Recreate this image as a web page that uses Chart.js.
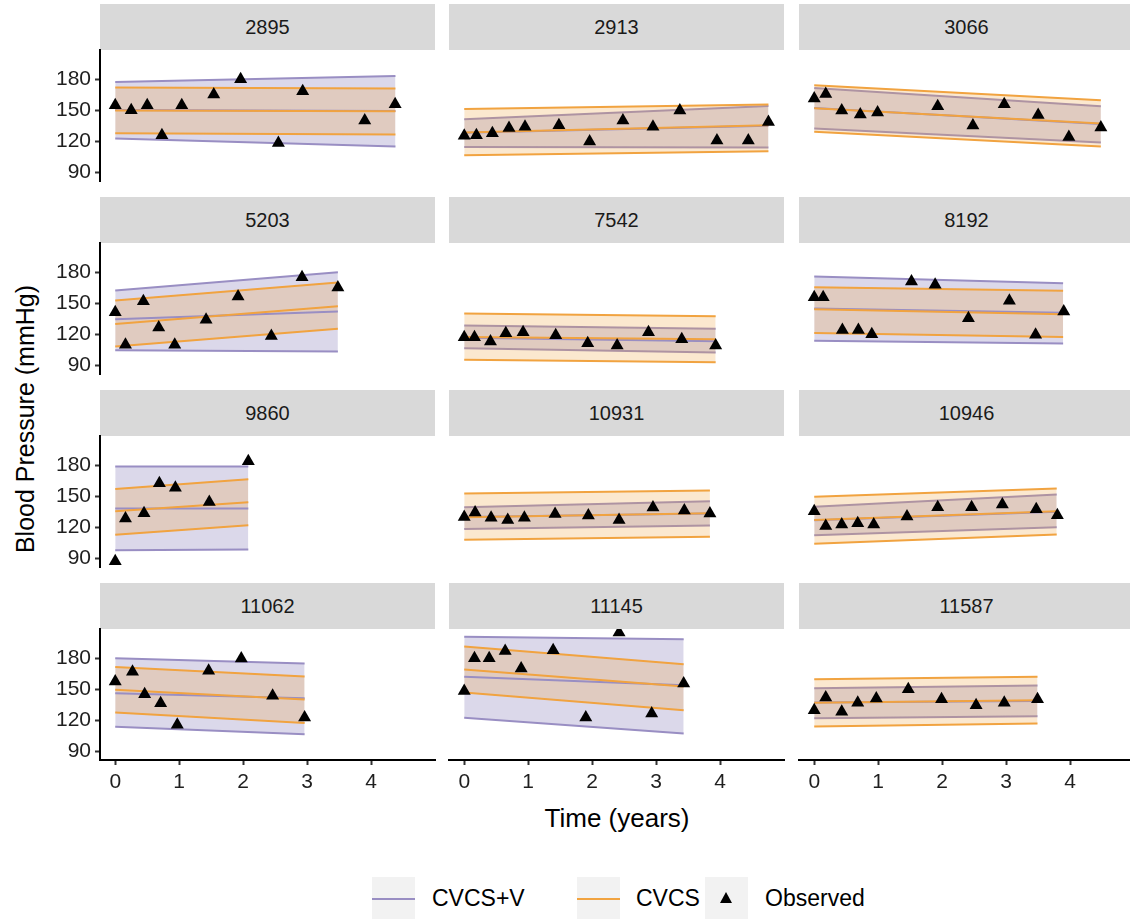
<!DOCTYPE html>
<html><head><meta charset="utf-8">
<script src="https://cdn.jsdelivr.net/npm/chart.js@4"></script>
<style>
html,body{margin:0;padding:0;background:#fff;}
body{width:1130px;height:919px;position:relative;overflow:hidden;font-family:"Liberation Sans",Arial,Helvetica,sans-serif;}
.strip{position:absolute;background:#d9d9d9;color:#1a1a1a;font-size:20px;text-align:center;z-index:1;}
canvas{position:absolute;z-index:2;}
.title{position:absolute;color:#000;text-align:center;white-space:nowrap;}
.key{position:absolute;top:877px;width:43px;height:43px;background:#f2f2f2;}
.kline{position:absolute;left:0;top:20.5px;width:43px;height:2px;}
.ktri{position:absolute;left:15px;top:15px;width:0;height:0;border-left:6.5px solid transparent;border-right:6.5px solid transparent;border-bottom:11px solid #000;}
.klab{position:absolute;top:884px;font-size:23px;line-height:28px;color:#000;white-space:nowrap;}
</style></head><body>
<div class="title" style="left:100px;width:1034px;top:803px;line-height:30px;font-size:26px;">Time (years)</div>
<div class="title" style="left:-325px;top:404px;width:700px;line-height:30px;font-size:25px;transform:rotate(-90deg);">Blood Pressure (mmHg)</div>
<div class="key" style="left:372px;"><div class="kline" style="background:#998ec3;"></div></div>
<div class="klab" style="left:432px;">CVCS+V</div>
<div class="key" style="left:577px;"><div class="kline" style="background:#f1a340;"></div></div>
<div class="klab" style="left:636px;">CVCS</div>
<div class="key" style="left:705px;"><div class="ktri"></div></div>
<div class="klab" style="left:765px;">Observed</div>
<script>
// ---- data ----
const panelIds = ['2895','2913','3066','5203','7542','8192','9860','10931','10946','11062','11145','11587'];
const xTicks = [0, 1, 2, 3, 4];
const yTicks = [90, 120, 150, 180];
// last follow-up time of each patient (years)
const tMax = [4.38, 4.755, 4.48, 3.48, 3.93, 3.89, 2.08, 3.84, 3.79, 2.96, 3.43, 3.49];
// CVCS+V interval: [value at t=0, value at tMax]
const cvcsvUpper = [[177.7,183.5],[141.6,154.5],[171.9,154.2],[162.6,180.3],[128.7,125.5],[176.1,169.7],[179,179],[139.7,145.5],[140,151.9],[180.3,175.2],[201,198.7],[151.3,153.9]];
const cvcsvMid   = [[150.5,149.6],[128.5,135.2],[152.5,137],[134.8,142.3],[117,113.5],[145.2,141],[138.4,138.4],[130.3,133.5],[127,135.2],[146.5,141.6],[162.3,154.2],[137.5,139]];
const cvcsvLower = [[122.9,115.2],[114.8,114.2],[132.6,119],[104.8,103.5],[106.8,102.6],[113.9,111.3],[98.1,98.7],[118.7,121.9],[112.6,120.3],[113.9,106.8],[122.6,107.4],[122.3,124.2]];
// CVCS interval
const cvcsUpper = [[172.3,171.3],[151.6,155.8],[174.5,160],[152.9,170.3],[140.3,137.7],[165.8,162.3],[157.4,166.8],[152.9,155.8],[149.7,157.7],[171.9,162.6],[191.6,174.5],[160,162.3]];
const cvcsMid   = [[150,149.4],[128.7,135.8],[152.3,137.4],[130.3,147.4],[117.7,115.5],[144.5,139.7],[135.8,144.5],[130,133.9],[127.4,135.8],[149.7,140.3],[169.4,152.9],[137.1,139.7]];
const cvcsLower = [[128.1,126.8],[106.8,110.6],[129.4,115.2],[108.4,125.5],[95.5,93.2],[121.6,117.7],[112.9,122.3],[108.1,111],[104.2,113.2],[127.7,117.7],[147.1,130],[114.2,117.1]];
// observed
const obsTime = [
  [0,0.25,0.5,0.73,1.04,1.54,1.96,2.55,2.93,3.9,4.375],
  [0,0.19,0.44,0.70,0.95,1.48,1.96,2.48,2.95,3.37,3.95,4.44,4.755],
  [0,0.18,0.43,0.72,0.99,1.93,2.48,2.97,3.5,3.98,4.48],
  [0,0.16,0.44,0.68,0.93,1.42,1.92,2.44,2.92,3.48],
  [0,0.16,0.41,0.65,0.92,1.43,1.93,2.39,2.88,3.4,3.93],
  [0,0.14,0.44,0.69,0.9,1.52,1.89,2.41,3.05,3.46,3.9],
  [0,0.16,0.45,0.69,0.94,1.47,2.08],
  [0,0.17,0.42,0.68,0.94,1.42,1.94,2.42,2.95,3.44,3.84],
  [0,0.18,0.43,0.68,0.93,1.45,1.93,2.46,2.94,3.47,3.8],
  [0,0.27,0.46,0.71,0.97,1.46,1.97,2.46,2.96],
  [0,0.16,0.39,0.64,0.89,1.39,1.9,2.42,2.93,3.43],
  [0,0.18,0.43,0.68,0.97,1.47,1.99,2.53,2.97,3.49]
];
const obsBP = [
  [155.2,150.3,155.2,126.1,155.2,165.5,180.3,118.7,168.7,140.3,156.1],
  [125.5,126.1,128.1,133.2,134.2,135.8,120,140.3,134.2,150,121,121,139],
  [161.6,166.1,150,146.1,148.1,154.2,135.5,156.1,145.8,124.5,133.5],
  [141.6,110,152.3,126.8,110,134.2,156.8,118.7,175.5,165.5],
  [117.4,117.4,113.2,121.3,122.3,119.4,111.6,109.4,122.3,115.5,109.4],
  [156.1,156.1,124.5,124.5,120.3,171.3,168.1,135.8,152.6,119.7,142.3],
  [87.4,128.7,133.9,162.9,158.4,144.8,184.2],
  [130.3,134.5,129.4,127.4,129.4,133.2,131.6,127.4,139.4,136.5,133.5],
  [135.8,121.6,122.9,124.2,122.9,130.6,139.7,139.7,142.3,137.7,131.9],
  [157.7,167.1,145.5,136.8,115.8,168.1,180,143.9,122.9],
  [148.7,180.3,180.3,187.4,170.3,188.1,122.9,205.2,126.8,155.8],
  [130,142.3,128.4,137.1,141.3,150.3,140.6,134.8,137.1,140.6]
];

// ---- layout / style ----
const FONT = '"Liberation Sans", Arial, Helvetica, sans-serif';
const PURPLE = '#998ec3', ORANGE = '#f1a340';
const PURPLE_FILL = 'rgba(153,142,195,0.35)', ORANGE_FILL = 'rgba(241,163,64,0.25)';
const X_MIN = -0.238, X_MAX = 4.998, Y_MIN = 81.8, Y_MAX = 208.6;
const PL = [100, 449, 799], PT = [50, 243, 436, 629];
const W = 335, H = 131, PAD = 8, YAX = 100, XAX = 42, STRIP = 46.5;

function seg(i, arr) { return [{x: 0, y: arr[i][0]}, {x: tMax[i], y: arr[i][1]}]; }
function lineDs(data, color, fill, bg) {
  return { type: 'line', data, borderColor: color, borderWidth: 2, pointRadius: 0, fill: fill, backgroundColor: bg || 'transparent', tension: 0 };
}
function noPad(sc) { sc.paddingTop = 0; sc.paddingBottom = 0; sc.paddingLeft = 0; sc.paddingRight = 0; }

panelIds.forEach((id, i) => {
  const r = Math.floor(i / 3), c = i % 3;
  const isLeft = c === 0, isBottom = r === 3;
  const s = document.createElement('div');
  s.className = 'strip';
  s.style.left = PL[c] + 'px'; s.style.top = (PT[r] - STRIP) + 'px';
  s.style.width = W + 'px'; s.style.height = STRIP + 'px'; s.style.lineHeight = STRIP + 'px';
  s.textContent = id;
  document.body.appendChild(s);

  const cv = document.createElement('canvas');
  const left = isLeft ? PL[c] - YAX : PL[c] - PAD;
  const top = PT[r] - PAD;
  const w = (isLeft ? YAX : PAD) + W + PAD;
  const h = PAD + H + (isBottom ? XAX : PAD);
  cv.width = w; cv.height = h;
  cv.style.left = left + 'px'; cv.style.top = top + 'px';
  cv.style.width = w + 'px'; cv.style.height = h + 'px';
  document.body.appendChild(cv);

  const points = obsTime[i].map((t, k) => ({x: t, y: obsBP[i][k]}));
  // drawn from last to first: CVCS+V ribbon+bounds, CVCS ribbon+bounds, mid lines, points
  const datasets = [
    { type: 'line', data: points, showLine: false, pointStyle: 'triangle', pointRadius: 7.5, pointBackgroundColor: '#000', pointBorderColor: '#000', pointBorderWidth: 0, borderColor: '#000' },
    lineDs(seg(i, cvcsMid), ORANGE, false),
    lineDs(seg(i, cvcsvMid), PURPLE, false),
    lineDs(seg(i, cvcsLower), ORANGE, false),
    lineDs(seg(i, cvcsUpper), ORANGE, 3, ORANGE_FILL),
    lineDs(seg(i, cvcsvLower), PURPLE, false),
    lineDs(seg(i, cvcsvUpper), PURPLE, 5, PURPLE_FILL)
  ];

  const tickFont = {family: FONT, size: 21};
  const xScale = {
    type: 'linear', min: X_MIN, max: X_MAX, display: isBottom,
    afterBuildTicks: sc => { sc.ticks = xTicks.map(v => ({value: v})); },
    grid: {drawOnChartArea: false, drawTicks: true, tickLength: 5, color: '#333', tickColor: '#333', tickWidth: 2},
    border: {display: true, color: '#000', width: 2},
    ticks: {font: tickFont, color: '#1f1f1f', padding: 5, maxRotation: 0, autoSkip: false}
  };
  if (isBottom) xScale.afterFit = sc => { noPad(sc); sc.height = XAX; };
  const yScale = {
    type: 'linear', min: Y_MIN, max: Y_MAX, display: isLeft,
    afterBuildTicks: sc => { sc.ticks = yTicks.map(v => ({value: v})); },
    grid: {drawOnChartArea: false, drawTicks: true, tickLength: 5, color: '#333', tickColor: '#333', tickWidth: 2},
    border: {display: true, color: '#000', width: 2},
    ticks: {font: tickFont, color: '#1f1f1f', padding: 4, autoSkip: false}
  };
  if (isLeft) yScale.afterFit = sc => { noPad(sc); sc.width = YAX; };

  new Chart(cv.getContext('2d'), {
    type: 'line',
    data: {datasets},
    options: {
      responsive: false, animation: false, devicePixelRatio: 1,
      layout: {autoPadding: false, padding: {top: PAD, right: PAD, left: isLeft ? 0 : PAD, bottom: isBottom ? 0 : PAD}},
      plugins: {legend: {display: false}, tooltip: {enabled: false}},
      scales: {x: xScale, y: yScale}
    }
  });
});
</script>
</body></html>
